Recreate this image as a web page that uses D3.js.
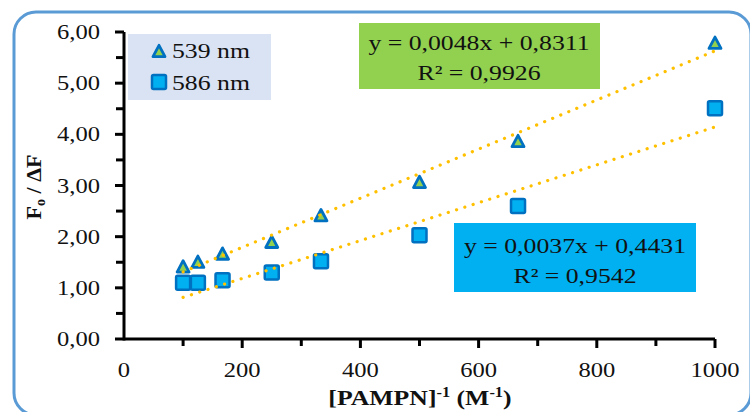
<!DOCTYPE html>
<html>
<head>
<meta charset="utf-8">
<script src="https://cdn.jsdelivr.net/npm/d3@7/dist/d3.min.js"></script>
<style>
  html, body { margin: 0; padding: 0; background: #fff; }
  svg { display: block; }
  text { font-family: "Liberation Serif", "Times New Roman", serif; fill: #111; }
</style>
</head>
<body>
<svg id="chart" width="750" height="412"></svg>
<script>
// Reciprocal concentration [PAMPN]^-1 (M^-1)
const xValues = [100, 125, 166.7, 250, 333.3, 500, 666.7, 1000];
// F0/ΔF at 539 nm and 586 nm
const y539 = [1.42, 1.51, 1.67, 1.90, 2.42, 3.07, 3.87, 5.79];
const y586 = [1.10, 1.10, 1.15, 1.30, 1.52, 2.03, 2.60, 4.51];
// Linear fits (slope, intercept, R²)
const fit539 = [0.0048, 0.8311, 0.9926];
const fit586 = [0.0037, 0.4431, 0.9542];
const seriesNames = ["539 nm", "586 nm"];
const xTicks = [0, 200, 400, 600, 800, 1000];
const yTicks = [0, 1, 2, 3, 4, 5, 6];

const fmt2 = d => d3.format(".2f")(d).replace(".", ",");
const fmtC = d => String(d).replace(".", ",");
const SX = 1.17; // horizontal text stretch

const svg = d3.select("#chart");

// outer rounded frame
svg.append("rect")
  .attr("x", 14).attr("y", 12).attr("width", 737).attr("height", 403)
  .attr("rx", 22).attr("ry", 22)
  .attr("fill", "#fff").attr("stroke", "#5b9bd5").attr("stroke-width", 3);

const x = d3.scaleLinear().domain([0, 1000]).range([124, 715]);
const y = d3.scaleLinear().domain([0, 6]).range([339, 32]);

function stretchedText(parent, px, py, anchor, size, weight) {
  return parent.append("text")
    .attr("transform", `translate(${px},${py}) scale(${SX},1)`)
    .attr("text-anchor", anchor)
    .attr("font-size", size)
    .attr("font-weight", weight || "normal");
}

// legend box
const leg = svg.append("g");
leg.append("rect").attr("x", 128).attr("y", 34).attr("width", 143).attr("height", 66)
  .attr("fill", "#dae3f3");

// equation boxes
svg.append("rect").attr("x", 359).attr("y", 23).attr("width", 241).attr("height", 66)
  .attr("fill", "#92d050");
svg.append("rect").attr("x", 454).attr("y", 223).attr("width", 242).attr("height", 69)
  .attr("fill", "#00b0f0");

function eqLines(cx, by, fit) {
  stretchedText(svg, cx, by, "middle", 22)
    .text(`y = ${fmtC(fit[0])}x + ${fmtC(fit[1])}`);
  stretchedText(svg, cx, by + 30, "middle", 22)
    .text(`R² = ${fmtC(fit[2])}`);
}
eqLines(479, 50, fit539);
eqLines(575, 253, fit586);

// axes
const axisG = svg.append("g");
axisG.append("line").attr("x1", x(0)).attr("x2", x(1000)).attr("y1", y(0)).attr("y2", y(0))
  .attr("stroke", "#000").attr("stroke-width", 3);
axisG.append("line").attr("x1", x(0)).attr("x2", x(0)).attr("y1", y(0) + 1.5).attr("y2", y(6))
  .attr("stroke", "#000").attr("stroke-width", 3);

// x ticks (major + minor)
const xMinor = d3.range(100, 1000, 200);
axisG.selectAll(".xt").data(xTicks.slice(1)).join("line")
  .attr("x1", d => x(d)).attr("x2", d => x(d)).attr("y1", y(0)).attr("y2", y(0) + 9)
  .attr("stroke", "#000").attr("stroke-width", 3);
axisG.selectAll(".xm").data(xMinor).join("line")
  .attr("x1", d => x(d)).attr("x2", d => x(d)).attr("y1", y(0)).attr("y2", y(0) + 7)
  .attr("stroke", "#000").attr("stroke-width", 3);
// y ticks (major + minor)
const yMinor = d3.range(0.5, 6, 1);
axisG.selectAll(".yt").data(yTicks).join("line")
  .attr("x1", x(0) - 9).attr("x2", x(0)).attr("y1", d => y(d)).attr("y2", d => y(d))
  .attr("stroke", "#000").attr("stroke-width", 3);
axisG.selectAll(".ym").data(yMinor).join("line")
  .attr("x1", x(0) - 8).attr("x2", x(0)).attr("y1", d => y(d)).attr("y2", d => y(d))
  .attr("stroke", "#000").attr("stroke-width", 3);

xTicks.forEach(d => stretchedText(svg, x(d), 377, "middle", 21).text(d));
yTicks.forEach(d => stretchedText(svg, 100, y(d) + 7, "end", 21).text(fmt2(d)));

// axis titles
const xt = stretchedText(svg, 420, 405, "middle", 22, "bold");
xt.append("tspan").text("[PAMPN]");
xt.append("tspan").attr("dy", -8).attr("font-size", 14).text("-1");
xt.append("tspan").attr("dy", 8).text(" (M");
xt.append("tspan").attr("dy", -8).attr("font-size", 14).text("-1");
xt.append("tspan").attr("dy", 8).text(")");

const yt = svg.append("text")
  .attr("transform", `translate(41,187) rotate(-90)`)
  .attr("text-anchor", "middle").attr("font-size", 22).attr("font-weight", "bold");
yt.append("tspan").text("F");
yt.append("tspan").attr("dy", 4).attr("font-size", 14).text("o");
yt.append("tspan").attr("dy", -4).text(" / ΔF");

// markers
function triPath(s) {
  const h = s * 0.95;
  return `M0,${-h / 2}L${s / 2},${h / 2}L${-s / 2},${h / 2}Z`;
}
function drawTriangles(g, xs, ys) {
  g.selectAll(null).data(xs.map((d, i) => [d, ys[i]])).join("path")
    .attr("transform", d => `translate(${x(d[0])},${y(d[1])})`)
    .attr("d", triPath(12))
    .attr("fill", "#92d050").attr("stroke", "#0070c0").attr("stroke-width", 2.8)
    .attr("stroke-linejoin", "round");
}
function drawSquares(g, xs, ys) {
  g.selectAll(null).data(xs.map((d, i) => [d, ys[i]])).join("rect")
    .attr("x", d => x(d[0]) - 7).attr("y", d => y(d[1]) - 7)
    .attr("width", 14).attr("height", 14).attr("rx", 1.5)
    .attr("fill", "#00b0f0").attr("stroke", "#0070c0").attr("stroke-width", 2.5);
}
const marks = svg.append("g");
drawSquares(marks, xValues, y586);
drawTriangles(marks, xValues, y539);

// dotted trend lines from the fitted coefficients
function trend(fit) {
  const x0 = d3.min(xValues), x1 = d3.max(xValues);
  svg.append("line")
    .attr("x1", x(x0)).attr("y1", y(fit[0] * x0 + fit[1]))
    .attr("x2", x(x1)).attr("y2", y(fit[0] * x1 + fit[1]))
    .attr("stroke", "#ffc000").attr("stroke-width", 3.2)
    .attr("stroke-linecap", "round").attr("stroke-dasharray", "0.1 8.6");
}
trend(fit539);
trend(fit586);

// legend entries
leg.append("path").attr("transform", "translate(159,51)").attr("d", triPath(12))
  .attr("fill", "#92d050").attr("stroke", "#0070c0").attr("stroke-width", 2.8)
  .attr("stroke-linejoin", "round");
leg.append("rect").attr("x", 152).attr("y", 75).attr("width", 14).attr("height", 14).attr("rx", 1.5)
  .attr("fill", "#00b0f0").attr("stroke", "#0070c0").attr("stroke-width", 2.5);
stretchedText(leg, 172, 58, "start", 22).text(seriesNames[0]);
stretchedText(leg, 172, 90, "start", 22).text(seriesNames[1]);
</script>
</body>
</html>
